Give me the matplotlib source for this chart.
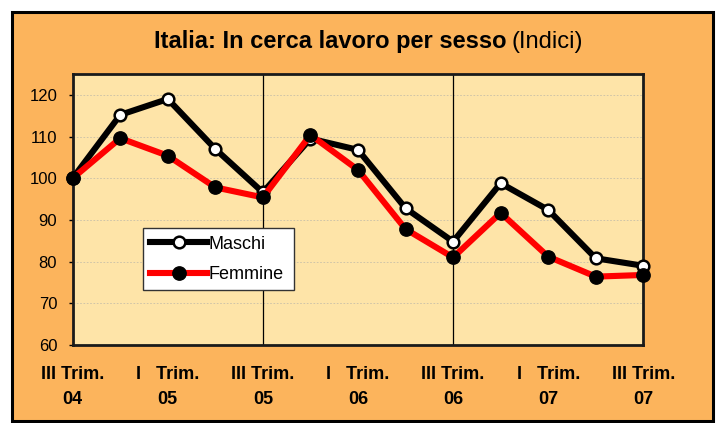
import matplotlib.pyplot as plt
from matplotlib.patches import Rectangle
from matplotlib.transforms import blended_transform_factory
import numpy as np

# quarters from III Trim. 04 to III Trim. 07
quarters = np.arange(13)
maschi = [100, 115.2, 119.0, 107.0, 96.6, 109.5, 106.8, 92.8, 84.8, 98.8, 92.4, 80.8, 79.0]
femmine = [100, 109.6, 105.4, 97.8, 95.4, 110.4, 102.0, 87.8, 81.0, 91.7, 81.2, 76.4, 76.8]
label_pos = [0, 2, 4, 6, 8, 10, 12]
tick_line1 = ['III Trim.', 'I   Trim.', 'III Trim.', 'I   Trim.', 'III Trim.', 'I   Trim.', 'III Trim.']
tick_line2 = ['04', '05', '05', '06', '06', '07', '07']
yticks = [60, 70, 80, 90, 100, 110, 120]

orange = '#FCB45C'
paper = '#FEE4A8'
arial = ['Liberation Sans', 'DejaVu Sans']

W, H = 719, 423
fig = plt.figure(figsize=(W / 100, H / 100), dpi=100, facecolor='white')

# outer frame
fig.patches.append(Rectangle((12 / W, 2.5 / H), 700.5 / W, 408 / H, transform=fig.transFigure,
                             facecolor=orange, edgecolor='black', linewidth=2.2, zorder=-5))

ax = fig.add_axes([72.7 / W, 78 / H, 570.6 / W, 271 / H])
ax.set_zorder(2)
ax.set_facecolor(paper)
ax.set_xlim(0, 12)
ax.set_ylim(60, 125)

for y in yticks[1:]:
    ax.axhline(y, color='#C8BFA8', linewidth=0.6, linestyle=(0, (2, 2)), zorder=1)
for x in [4, 8]:
    ax.axvline(x, color='black', linewidth=0.9, zorder=1)

ax.plot(quarters, maschi, color='black', linewidth=4.4, marker='o', markersize=8.4,
        markerfacecolor='white', markeredgecolor='black', markeredgewidth=1.8,
        label='Maschi', zorder=3, clip_on=False)
ax.plot(quarters, femmine, color='#FF0000', linewidth=4.4, marker='o', markersize=9.6,
        markerfacecolor='black', markeredgecolor='black',
        label='Femmine', zorder=4, clip_on=False)

for s in ax.spines.values():
    s.set_linewidth(2)
    s.set_color('#1a1a1a')

ax.set_yticks(yticks)
ax.set_yticklabels([str(v) for v in yticks], fontsize=12, family=arial)
ax.tick_params(axis='y', length=3.2, width=1, pad=8)
ax.set_xticks([])

# category labels below the axis
trans = blended_transform_factory(ax.transData, fig.transFigure)
for xp, a, b in zip(label_pos, tick_line1, tick_line2):
    ax.text(xp, 1 - 379.3 / H, a, transform=trans, ha='center', va='baseline',
            fontsize=13, fontweight='bold', family=arial)
    ax.text(xp, 1 - 404 / H, b, transform=trans, ha='center', va='baseline',
            fontsize=13, fontweight='bold', family=arial)

fig.text(506 / W, 1 - 47.7 / H, 'Italia: In cerca lavoro per sesso', ha='right', va='baseline',
         fontsize=17, fontweight='bold', family=arial)
fig.text(511.5 / W, 1 - 47.7 / H, '(Indici)', ha='left', va='baseline', fontsize=17, family=arial)

leg = ax.legend(loc='upper left', bbox_to_anchor=(0.1232, 0.23, 0.264, 0.2), mode='expand',
                prop={'family': arial, 'size': 13}, frameon=True, fancybox=False,
                handlelength=3.15, handletextpad=0.1, borderpad=0.4, labelspacing=0.75,
                borderaxespad=0)
leg.get_frame().set_edgecolor('#333333')
leg.get_frame().set_linewidth(1)
leg.get_frame().set_facecolor('white')
leg.get_frame().set_alpha(1)

fig.savefig('out.png', dpi=100, facecolor='white')
